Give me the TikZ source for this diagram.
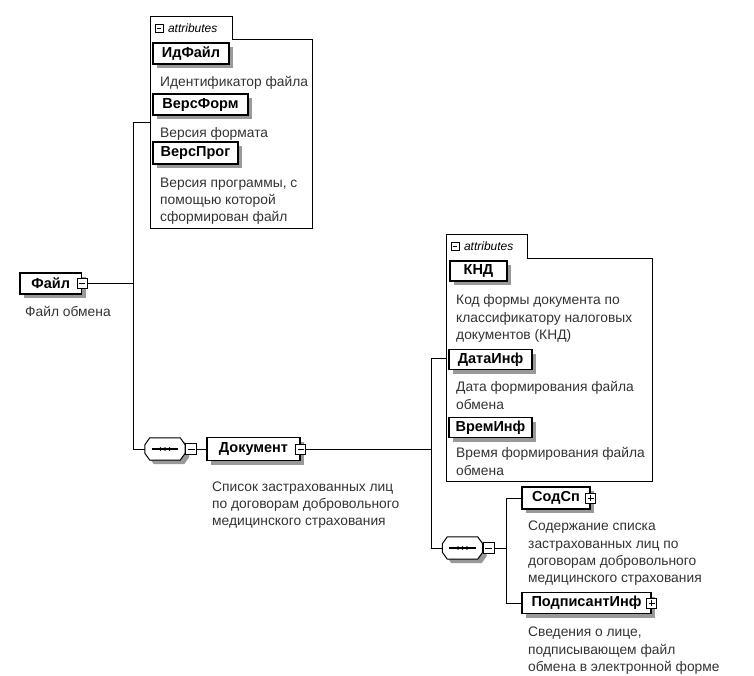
\documentclass[tikz,border=0pt]{standalone}
\usepackage{fontspec}
\setmainfont{Liberation Sans}
\usetikzlibrary{shadows,positioning}

\tikzset{
  minusbox/.style={draw,fill=white,line width=0.8pt,minimum size=10pt,inner sep=0pt,
    path picture={\draw[line width=0.8pt] ([xshift=2pt]path picture bounding box.west) -- ([xshift=-2pt]path picture bounding box.east);}},
  plusbox/.style={minusbox,
    path picture={\draw[line width=0.8pt] ([xshift=2pt]path picture bounding box.west) -- ([xshift=-2pt]path picture bounding box.east)
      ([yshift=-2pt]path picture bounding box.north) -- ([yshift=2pt]path picture bounding box.south);}}
}

\begin{document}
\begin{tikzpicture}[x=1pt,y=-1pt,
    shadowed/.style={drop shadow={shadow xshift=4pt,shadow yshift=-4pt,fill=black!40,opacity=1}},
    elem/.style={draw,line width=1.2pt,fill=white,shadowed,inner sep=0pt,minimum height=21pt,
      font=\fontsize{14.5}{17}\selectfont\bfseries},
    note/.style={anchor=north west,inner sep=0pt,align=left,text=black!80,
      font=\fontsize{13.8}{17.3}\selectfont},
    seqbase/.style={inner sep=0pt,minimum width=40pt,minimum height=22pt},
    attbox/.style={inner sep=0pt,anchor=north west},
    tabtext/.style={inner sep=0pt,font=\fontsize{12}{14}\selectfont\itshape}]
\useasboundingbox (0,0) rectangle (754,676);

\node[elem,minimum width=61.5pt] (F) at (50.75,283.5) {Файл};
\node[minusbox] (FX) at (F.east) {};
\node[note] at (25,306) {Файл обмена};

\begin{scope}
\node[attbox,minimum width=162pt,minimum height=188pt] (A1) at (150,40) {};
\node[attbox,anchor=south west,minimum width=82pt,minimum height=23pt] (T1) at (A1.north west) {};
\draw[line width=1pt] (T1.south west) |- (T1.north east) -- (T1.south east) -| (A1.south east) -| (A1.north west);
\node[minusbox,minimum size=8pt,right=5pt of T1.west] (T1m) {};
\node[tabtext,right=4pt of T1m] {attributes};

\node[elem,minimum width=76pt] (IdF) at (191,53.5) {ИдФайл};
\node[note] at (160,76.5) {Идентификатор файла};
\node[elem,minimum width=95pt] (VF) at (200.5,104.5) {ВерсФорм};
\node[note] at (160,127.5) {Версия формата};
\node[elem,minimum width=85pt,minimum height=22pt] (VP) at (195.5,153) {ВерсПрог};
\node[note] at (160,177.5) {Версия программы, с\\помощью которой\\сформирован файл};
\end{scope}

\node[seqbase] (S1) at (165,449) {};
\node[elem,minimum width=93pt,minimum height=23pt] (D) at (253.5,449) {Документ};
\node[minusbox] (DX) at (D.east) {};
\node[note] at (212,481.5) {Список застрахованных лиц\\по договорам добровольного\\медицинского страхования};

\begin{scope}
\node[attbox,minimum width=206pt,minimum height=223pt] (A2) at (446,258) {};
\node[attbox,anchor=south west,minimum width=81pt,minimum height=23pt] (T2) at (A2.north west) {};
\draw[line width=1pt] (T2.south west) |- (T2.north east) -- (T2.south east) -| (A2.south east) -| (A2.north west);
\node[minusbox,minimum size=8pt,right=5pt of T2.west] (T2m) {};
\node[tabtext,right=4pt of T2m] {attributes};

\node[elem,minimum width=57pt,minimum height=20pt] (KND) at (478.5,271) {КНД};
\node[note] at (456,294.5) {Код формы документа по\\классификатору налоговых\\документов (КНД)};
\node[elem,minimum width=83pt,minimum height=20pt] (DI) at (490.5,359.5) {ДатаИнф};
\node[note] at (456,381.5) {Дата формирования файла\\обмена};
\node[elem,minimum width=83pt,minimum height=20pt] (VI) at (490.5,427.5) {ВремИнф};
\node[note] at (456,447.5) {Время формирования файла\\обмена};
\end{scope}

\node[seqbase] (S2) at (462.5,548) {};
\node[elem,minimum width=68pt,minimum height=22pt] (SS) at (556,498) {СодСп};
\node[plusbox] (SSX) at (SS.east) {};
\node[note] at (528,521) {Содержание списка\\застрахованных лиц по\\договорам добровольного\\медицинского страхования};
\node[elem,minimum width=129pt] (PI) at (586.5,603) {ПодписантИнф};
\node[plusbox] (PIX) at (PI.east) {};
\node[note] at (528,627) {Сведения о лице,\\подписывающем файл\\обмена в электронной форме};

\foreach \s in {S1,S2} {
  \draw[line width=1pt,fill=white,shadowed] ([xshift=5pt]\s.north west) -- ([xshift=-5pt]\s.north east)
    -- ([yshift=-7pt]\s.north east) -- ([yshift=7pt]\s.south east) -- ([xshift=-5pt]\s.south east)
    -- ([xshift=5pt]\s.south west) -- ([yshift=7pt]\s.south west) -- ([yshift=-7pt]\s.north west) -- cycle;
  \draw[line width=1.2pt] ([xshift=7pt]\s.west) -- ([xshift=-7pt]\s.east);
  \foreach \d in {-4.5,0,4.5} \fill ([xshift=\d pt]\s.center) circle (1.8pt);
}
\node[minusbox,anchor=west,minimum size=11pt] (S1X) at (S1.east) {};
\node[minusbox,anchor=west,minimum size=11pt] (S2X) at (S2.east) {};

\coordinate (B1) at (133,122);
\coordinate (B2) at (431,358);
\coordinate (B3) at (506,548);
\draw (FX.east) -- (FX.east -| B1);
\draw (A1.west |- B1) -- (B1) |- (S1.west);
\draw (S1X.east) -- (D.west);
\draw (DX.east) -- (DX.east -| B2);
\draw (A2.west |- B2) -- (B2) |- (S2.west);
\draw (S2X.east) -- (B3);
\draw (SS.west) -| (B3 |- PI.west) -- (PI.west);
\end{tikzpicture}
\end{document}
